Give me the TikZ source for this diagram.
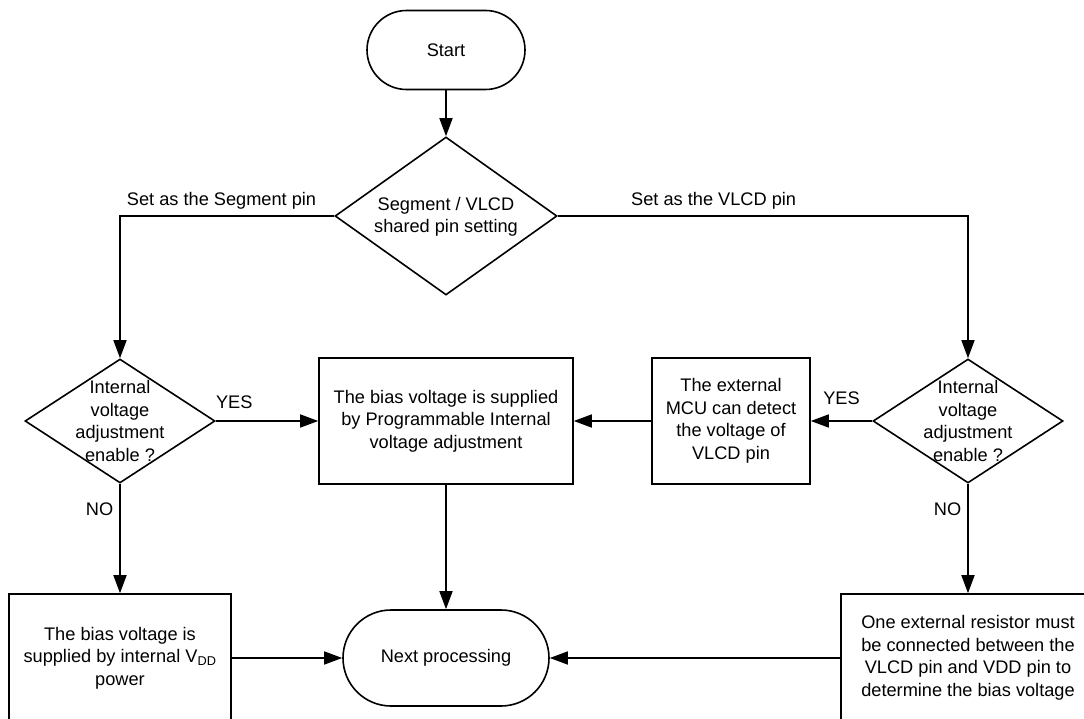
\documentclass[tikz,border=0pt]{standalone}
\usepackage{fontspec}
\setmainfont{Liberation Sans}
\usetikzlibrary{shapes.geometric, arrows.meta}
\tikzstyle{txt}=[font=\fontsize{18.2pt}{22.5pt}\selectfont, align=center]
\tikzstyle{terminal}=[txt, rectangle, draw, inner sep=0pt]
\tikzstyle{decision}=[diamond, draw, inner sep=0pt, minimum width=190pt, minimum height=124pt]
\tikzstyle{process}=[txt, rectangle, draw, inner sep=0pt]
\tikzstyle{choice}=[txt, inner sep=6pt]

\begin{document}
\begin{tikzpicture}[x=1pt, y=-1pt, line width=1.6pt, >={Triangle[length=18pt, width=13pt]}]
  \clip (0,0) rectangle (1084,719);
  \fill[white] (0,0) rectangle (1084,719);

  %% Top
  \draw (446,50) node[terminal, minimum width=158pt, minimum height=79pt, rounded corners=39.5pt] (start) {Start};
  \draw (446,216) node[diamond, draw, inner sep=0pt, minimum width=222pt, minimum height=158pt] (pin) {};
  \draw (446,217) node[txt] (pintxt) {Segment / VLCD\\shared pin setting};

  %% Segment side
  \draw (120,421) node[decision] (segq) {};
  \draw (120,421) node[txt] (segqtxt) {Internal\\voltage\\adjustment\\enable ?};
  \draw (446,421) node[process, minimum width=254pt, minimum height=126pt] (prog) {The bias voltage is supplied\\by Programmable Internal\\voltage adjustment};
  \draw (120,658) node[process, minimum width=222pt, minimum height=128pt] (vdd) {The bias voltage is\\supplied by internal V\textsubscript{DD}\\power};

  %% VLCD side
  \draw (968,421) node[decision] (vlcdq) {};
  \draw (968,421) node[txt] (vlcdqtxt) {Internal\\voltage\\adjustment\\enable ?};
  \draw (731,421) node[process, minimum width=158pt, minimum height=126pt] (mcu) {The external\\MCU can detect\\the voltage of\\VLCD pin};
  \draw (968,658) node[process, minimum width=254pt, minimum height=128pt] (res) {One external resistor must\\be connected between the\\VLCD pin and VDD pin to\\determine the bias voltage};

  %% End
  \draw (446,658) node[terminal, minimum width=206pt, minimum height=96pt, rounded corners=48pt] (next) {Next processing};

  \draw[->] (start) -- (pin.north);
  \draw[->] (pin.west) -| node[choice, pos=0.263, above] {Set as the Segment pin} (segq.north);
  \draw[->] (pin.east) -| node[choice, pos=0.19, above] {Set as the VLCD pin} (vlcdq.north);
  \draw[->] (segq.east) -- node[choice, pos=0.18, above, yshift=6pt] {YES} (prog.west);
  \draw[->] (segq.south) -- node[choice, pos=0.23, left] {NO} (vdd.north);
  \draw[->] (vlcdq.west) -- node[choice, pos=0.5, above, yshift=10pt] {YES} (mcu.east);
  \draw[->] (mcu.west) -- (prog.east);
  \draw[->] (vlcdq.south) -- node[choice, pos=0.23, left] {NO} (res.north);
  \draw[->] (prog.south) -- (next.north);
  \draw[->] (vdd.east) -- (next.west);
  \draw[->] (res.west) -- (next.east);
\end{tikzpicture}
\end{document}
